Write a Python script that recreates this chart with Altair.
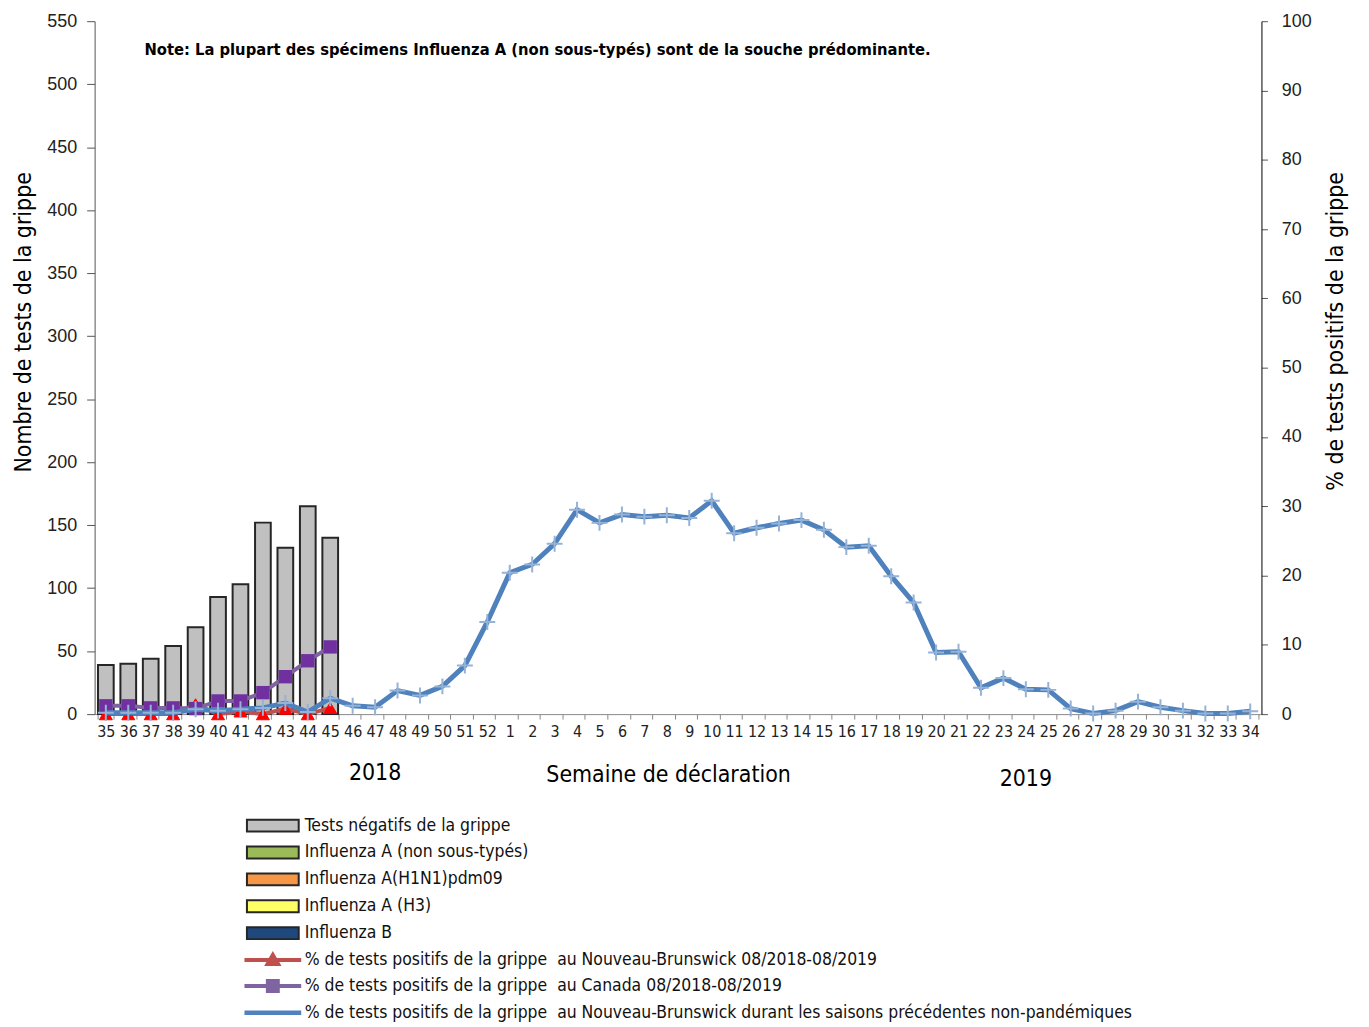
import altair as alt
import pandas as pd

weeks = [str(w) for w in list(range(35, 53)) + list(range(1, 35))]

bar_weeks = [str(w) for w in range(35, 46)]
neg_tests = [39, 40, 44, 54, 69, 93, 103, 152, 132, 165, 140]

nb_pct = [0, 0, 0, 0, 1.4, 0, 0.4, 0, 0.8, 0, 0.9]
ca_pct = [1.2, 1.2, 0.9, 0.9, 0.8, 1.9, 1.9, 3.1, 5.4, 7.7, 9.7]

prev_pct = [0.2, 0.2, 0.2, 0.2, 0.7, 0.5, 0.7, 0.9, 1.6, 0.3, 2.3,
            1.2, 1.0, 3.4, 2.7, 4.0, 7.0, 13.3,
            20.4, 21.6, 24.6, 29.5, 27.6, 28.8, 28.5, 28.7, 28.3, 30.8,
            26.1, 26.9, 27.5, 28.0, 26.6, 24.1, 24.3, 19.9, 16.1, 8.9,
            9.0, 3.8, 5.2, 3.6, 3.5, 0.8, 0.1, 0.5, 1.8, 1.0, 0.5, 0.1,
            0.1, 0.4]

legend_names = [
    "Tests négatifs de la grippe",
    "Influenza A (non sous-typés)",
    "Influenza A(H1N1)pdm09",
    "Influenza A (H3)",
    "Influenza B",
    "% de tests positifs de la grippe\u00a0 au Nouveau-Brunswick 08/2018-08/2019",
    "% de tests positifs de la grippe\u00a0 au Canada 08/2018-08/2019",
    "% de tests positifs de la grippe\u00a0 au Nouveau-Brunswick durant les saisons précédentes non-pandémiques",
]
legend_fill = ["#c0c0c0", "#9bbb59", "#f79646", "#ffff66", "#1f497d",
               "#c0504d", "#8064a2", "#4f81bd"]
legend_stroke = ["#262626", "#262626", "#262626", "#262626", "#262626",
                 "#c0504d", "#8064a2", "#4f81bd"]
rect_path = "M-2.6,-0.6H2.6V0.6H-2.6Z"
legend_shapes = [rect_path] * 5 + [
    "M-2.75,-0.1H2.75V0.1H-2.75Z M0,-0.7L0.7,0.5L-0.7,0.5Z",
    "M-2.75,-0.1H2.75V0.1H-2.75Z M-0.6,-0.6H0.6V0.6H-0.6Z",
    "M-2.75,-0.12H2.75V0.12H-2.75Z",
]

NARROW = "'Liberation Sans Narrow', 'Noto Sans Condensed', 'DejaVu Sans Condensed', Roboto"
REG = "Liberation Sans"

df_bars = pd.DataFrame({"week": bar_weeks, "count": neg_tests})
df_nb = pd.DataFrame({"week": bar_weeks, "pct": nb_pct})
df_ca = pd.DataFrame({"week": bar_weeks, "pct": ca_pct})
df_prev = pd.DataFrame({"week": weeks, "pct": prev_pct})
df_leg = pd.DataFrame({"series": legend_names})


def xenc():
    return alt.X(
        "week:N",
        scale=alt.Scale(domain=weeks, paddingInner=0.3, paddingOuter=0.15),
        axis=alt.Axis(
            labelAngle=0, tickBand="extent", title="Semaine de déclaration",
            titleFont=NARROW, titleFontSize=23, titleFontWeight="normal",
            titleX=576, titleY=61, titleBaseline="middle", titleColor="#000",
            labelFont=NARROW, labelFontSize=16, labelColor="#222",
            labelPadding=4, domainColor="#888", tickColor="#888", tickSize=5,
        ),
    )


bars = alt.Chart(df_bars).mark_bar(
    fill="#c0c0c0", stroke="#262626", strokeWidth=2
).encode(
    x=xenc(),
    y=alt.Y(
        "count:Q",
        scale=alt.Scale(domain=[0, 550], nice=False),
        axis=alt.Axis(
            orient="left", values=list(range(0, 551, 50)), grid=False,
            title="Nombre de tests de la grippe", titleFont=NARROW,
            titleFontSize=23, titleFontWeight="normal", titleColor="#000",
            titleAngle=270, titleX=-71, titleY=302, titleBaseline="middle",
            labelFont=REG, labelFontSize=18, labelColor="#222",
            labelPadding=10, tickSize=8, domainColor="#555", tickColor="#555",
        ),
    ),
)

yright = alt.Y(
    "pct:Q",
    scale=alt.Scale(domain=[0, 100], nice=False),
    axis=alt.Axis(
        orient="right", values=list(range(0, 101, 10)), grid=False,
        title="% de tests positifs de la grippe", titleFont=NARROW,
        titleFontSize=23, titleFontWeight="normal", titleColor="#000",
        titleAngle=270, titleX=74, titleY=311, titleBaseline="middle",
        labelFont=REG, labelFontSize=18, labelColor="#222",
        labelPadding=14, tickSize=6, domainColor="#000", tickColor="#555",
    ),
)

nb_line = alt.Chart(df_nb).mark_line(color="#c0504d", strokeWidth=4).encode(x=xenc(), y=yright)
nb_pts = alt.Chart(df_nb).mark_point(
    shape="triangle-up", filled=True, fill="#ff0000", stroke="#ff0000",
    strokeWidth=1, size=170, opacity=1
).encode(x=xenc(), y=yright)
ca_line = alt.Chart(df_ca).mark_line(color="#8064a2", strokeWidth=4).encode(x=xenc(), y=yright)
ca_pts = alt.Chart(df_ca).mark_point(
    shape="square", filled=True, fill="#7030a0", size=180, opacity=1
).encode(x=xenc(), y=yright)
prev_line = alt.Chart(df_prev).mark_line(color="#4f81bd", strokeWidth=5).encode(x=xenc(), y=yright)
prev_pts = alt.Chart(df_prev).mark_point(
    shape="M-1,0H1M0,-1V1", filled=False, stroke="#95b3d7", strokeWidth=2,
    size=256, opacity=1
).encode(x=xenc(), y=yright)

lines = alt.layer(nb_line, nb_pts, ca_line, ca_pts, prev_line, prev_pts)

leg = alt.Legend(
    title=None, orient="none", legendX=168, legendY=797,
    direction="vertical", labelFont=NARROW, labelFontSize=17.5,
    labelColor="#111", labelLimit=1000, symbolSize=400,
    symbolStrokeWidth=2, symbolOpacity=1, labelOffset=21,
    rowPadding=6, padding=0,
    symbolFillColor="#c0c0c0", symbolStrokeColor="#262626",
)

legend_layer = alt.Chart(df_leg).mark_point(filled=True, clip=True, opacity=1).encode(
    x=alt.value(-500), y=alt.value(-500),
    fill=alt.Fill("series:N", scale=alt.Scale(domain=legend_names, range=legend_fill), legend=leg),
    stroke=alt.Stroke("series:N", scale=alt.Scale(domain=legend_names, range=legend_stroke), legend=leg),
    shape=alt.Shape("series:N", scale=alt.Scale(domain=legend_names, range=legend_shapes), legend=leg),
)

df_y18 = pd.DataFrame({"week": ["47"], "label": ["2018"]})
df_y19 = pd.DataFrame({"week": ["24"], "label": ["2019"]})
y18 = alt.Chart(df_y18).mark_text(
    font=NARROW, fontSize=23, color="#000", baseline="middle", align="center"
).encode(x=xenc(), y=alt.value(755), text="label:N")
y19 = alt.Chart(df_y19).mark_text(
    font=NARROW, fontSize=23, color="#000", baseline="middle", align="center"
).encode(x=xenc(), y=alt.value(761), text="label:N")

note = alt.Chart(pd.DataFrame({"t": ["Note: La plupart des spécimens Influenza A (non sous-typés) sont de la souche prédominante."]})).mark_text(
    font=NARROW, fontSize=16.5, fontWeight="bold", color="#000", align="left", baseline="middle"
).encode(x=alt.value(50), y=alt.value(29), text="t:N")

chart = alt.layer(bars, lines, y18, y19, note, legend_layer).resolve_scale(
    y="independent"
).properties(
    width=1172, height=696, autosize="none",
    padding={"left": 87, "top": 11, "right": 100, "bottom": 310},
).configure_view(stroke=None)

chart.save("out.html", embed_options={"renderer": "svg", "actions": False})
